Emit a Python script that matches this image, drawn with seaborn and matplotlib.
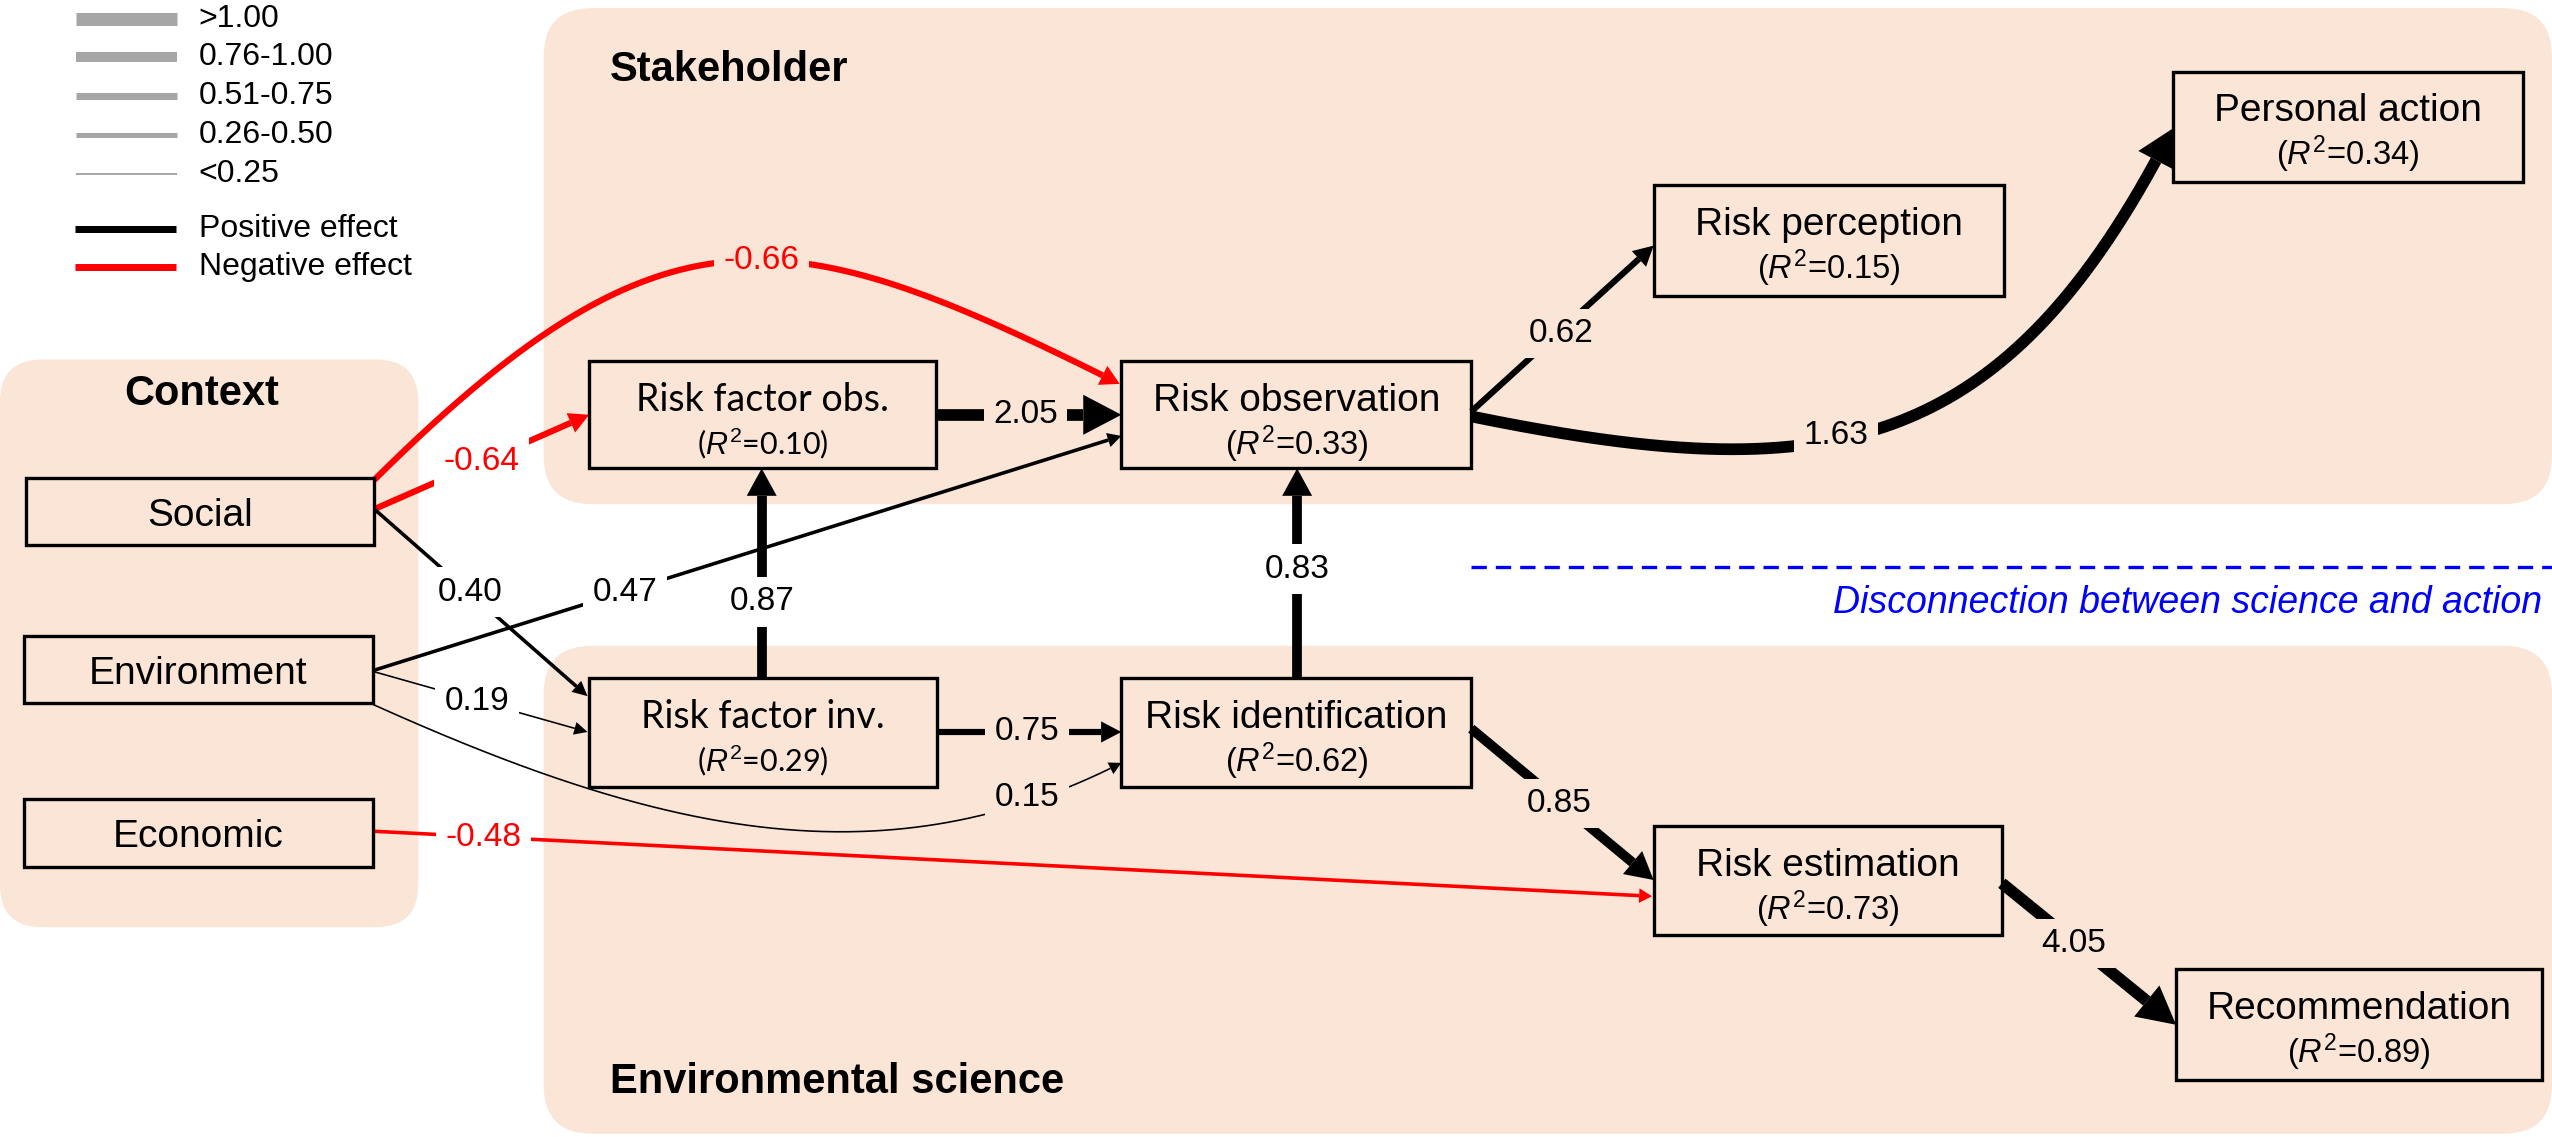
import numpy as np
import pandas as pd
import matplotlib
matplotlib.use("Agg")
import matplotlib.pyplot as plt
from matplotlib.patches import FancyBboxPatch, Rectangle, Polygon
import seaborn as sns
from math import comb

# ---- values ----
node_names = ["Social", "Environment", "Economic",
              "Risk factor obs.", "Risk observation", "Risk factor inv.",
              "Risk identification", "Risk perception", "Personal action",
              "Risk estimation", "Recommendation"]
node_r2 = [None, None, None, 0.10, 0.33, 0.29, 0.62, 0.15, 0.34, 0.73, 0.89]

edge_from = ["Social", "Social", "Social", "Environment", "Environment", "Environment",
             "Economic", "Risk factor obs.", "Risk factor inv.", "Risk factor inv.",
             "Risk identification", "Risk observation", "Risk observation",
             "Risk identification", "Risk estimation"]
edge_to = ["Risk observation", "Risk factor obs.", "Risk factor inv.", "Risk observation",
           "Risk factor inv.", "Risk identification", "Risk estimation", "Risk observation",
           "Risk factor obs.", "Risk identification", "Risk observation", "Risk perception",
           "Personal action", "Risk estimation", "Recommendation"]
edge_coef = [-0.66, -0.64, 0.40, 0.47, 0.19, 0.15, -0.48, 2.05, 0.87, 0.75, 0.83,
             0.62, 1.63, 0.85, 4.05]

size_bins = [">1.00", "0.76-1.00", "0.51-0.75", "0.26-0.50", "<0.25"]
effect_labels = ["Positive effect", "Negative effect"]
group_titles = ["Context", "Stakeholder", "Environmental science"]
note_text = "Disconnection between science and action"

# ---- layout (canvas units = 1568 x 699) ----
W, H = 1568, 699
PT = 2552 / W * 0.72          # points per canvas unit
PEACH = "#FBE5D6"
GRAY = "#A6A6A6"
RED = "#FF0000"

panels = {"Context": (0, 221, 257, 570, 26),
          "Stakeholder": (334, 5, 1568, 310, 30),
          "Environmental science": (334, 397, 1568, 697, 30)}
title_pos = {"Context": (124, 242, "center"),
             "Stakeholder": (375, 43, "left"),
             "Environmental science": (375, 665, "left")}

box_pos = {"Social": (16, 294, 230, 335),
           "Environment": (15, 391, 229, 432),
           "Economic": (15, 491, 229, 533),
           "Risk factor obs.": (362, 222, 575, 288),
           "Risk observation": (689, 222, 904, 288),
           "Risk factor inv.": (362, 417, 576, 484),
           "Risk identification": (689, 417, 904, 484),
           "Risk perception": (1016, 114, 1231, 182),
           "Personal action": (1335, 44, 1550, 112),
           "Risk estimation": (1016, 508, 1230, 575),
           "Recommendation": (1337, 596, 1562, 664)}
lato_boxes = {"Risk factor obs.", "Risk factor inv."}

# bezier control points of each path, same order as edge_coef
edge_path = [
    [(230, 295), (410, 116), (486, 135), (688, 236)],
    [(230, 313), (362, 255)],
    [(230, 313), (361, 428)],
    [(230, 412), (689, 268)],
    [(230, 413), (361, 450)],
    [(229, 433), (400, 510), (540, 545), (689, 469)],
    [(229, 511), (1015, 551)],
    [(575, 255), (689, 255)],
    [(468, 417), (468, 288)],
    [(576, 450), (689, 450)],
    [(797, 417), (797, 288)],
    [(904, 253), (1016, 151)],
    [(904, 256), (1120, 300), (1230, 285), (1335, 79)],
    [(904, 448), (1016, 541)],
    [(1230, 543), (1337, 630)],
]
label_pos = [(468, 160), (296, 284), (289, 364), (384, 364), (293, 431), (631, 490),
             (297, 515), (630, 255), (468, 370), (631, 450), (797, 350), (959, 205),
             (1128, 268), (958, 494), (1274, 580)]

# shaft width, head length, head half-width per magnitude bin (canvas units)
bin_style = [(7.2, 23.5, 12.3), (6.0, 17.0, 9.2), (3.8, 12.5, 6.5),
             (2.2, 9.5, 4.5), (1.0, 8.5, 4.0)]
legend_lw = [8.0, 6.1, 4.3, 3.1, 1.2]


def size_bin(c):
    a = abs(c)
    if a > 1.0:
        return 0
    if a > 0.75:
        return 1
    if a > 0.5:
        return 2
    if a > 0.25:
        return 3
    return 4


def bezier(ctrl, n=400):
    ctrl = np.asarray(ctrl, float)
    k = len(ctrl) - 1
    t = np.linspace(0, 1, n)[:, None]
    return sum(comb(k, i) * t ** i * (1 - t) ** (k - i) * ctrl[i] for i in range(k + 1))


def draw_arrow(ax, ctrl, lw, hl, hw, color):
    pts = bezier(ctrl)
    tip = pts[-1]
    dist = np.hypot(*(pts - tip).T)
    i = int(np.argmax(dist <= hl))
    base = pts[i]
    ax.plot(pts[:i + 1, 0], pts[:i + 1, 1], color=color, lw=lw * PT,
            solid_capstyle="butt", zorder=2)
    u = (tip - base) / np.hypot(*(tip - base))
    nrm = np.array([-u[1], u[0]])
    ax.add_patch(Polygon([tip, base + nrm * hw, base - nrm * hw], closed=True,
                         fc=color, ec="none", zorder=2))


def inside_panel(x, y):
    return any(p[0] <= x <= p[2] and p[1] <= y <= p[3] for p in panels.values())


sns.set_theme(style="white")
plt.rcParams["font.family"] = ["Liberation Sans", "DejaVu Sans"]
plt.rcParams["text.color"] = "black"
plt.rcParams["mathtext.fontset"] = "custom"
plt.rcParams["mathtext.rm"] = "Liberation Sans"
plt.rcParams["mathtext.it"] = "Liberation Sans:italic"

fig = plt.figure(figsize=(25.52, 11.37), dpi=100)
ax = fig.add_axes([0, 0, 1, 1])

# background group panels
for name, (x0, y0, x1, y1, r) in panels.items():
    ax.add_patch(FancyBboxPatch((x0, y0), x1 - x0, y1 - y0,
                                boxstyle=f"round,pad=0,rounding_size={r}",
                                fc=PEACH, ec="none", zorder=0))
for name in group_titles:
    x, y, ha = title_pos[name]
    ax.text(x, y, name, ha=ha, va="center", fontsize=30, fontweight="bold", zorder=5)

# legend samples
leg = pd.DataFrame({"x": [47, 109] * 5,
                    "y": np.repeat([11.7, 35, 59, 83, 107], 2),
                    "bin": np.repeat(size_bins, 2)})
sns.lineplot(data=leg, x="x", y="y", size="bin",
             sizes={b: w * PT for b, w in zip(size_bins, legend_lw)},
             color=GRAY, estimator=None, sort=False, legend=False, ax=ax,
             solid_capstyle="butt")
eff = pd.DataFrame({"x": [46, 108] * 2, "y": np.repeat([141, 164], 2),
                    "effect": np.repeat(effect_labels, 2)})
sns.lineplot(data=eff, x="x", y="y", hue="effect",
             palette={effect_labels[0]: "black", effect_labels[1]: RED},
             linewidth=4.3 * PT, estimator=None, sort=False, legend=False, ax=ax,
             solid_capstyle="butt")
for lab, y in zip(size_bins + effect_labels, [11.7, 35, 59, 83, 107, 141, 164]):
    ax.text(122, y, lab, ha="left", va="center", fontsize=23)

# disconnection line
ax.plot([904, W], [348.5, 348.5], color="blue", lw=2.4, dashes=(4.6, 2.7), zorder=1)
ax.text(1562, 371, note_text, ha="right", va="center", fontsize=27,
        style="italic", color="blue")

# paths
for k, c in enumerate(edge_coef):
    lw, hl, hw = bin_style[size_bin(c)]
    color = RED if c < 0 else "black"
    draw_arrow(ax, edge_path[k], lw, hl, hw, color)
    x, y = label_pos[k]
    bg = PEACH if inside_panel(x, y) else "white"
    ax.text(x, y, f"{c:.2f}", ha="center", va="center", fontsize=24, color=color,
            bbox=dict(boxstyle="square,pad=0.28", fc=bg, ec="none"), zorder=5)

# variable boxes
for name, r2 in zip(node_names, node_r2):
    x0, y0, x1, y1 = box_pos[name]
    ax.add_patch(Rectangle((x0, y0), x1 - x0, y1 - y0, fill=False, ec="black",
                           lw=2.4, zorder=4))
    cx = (x0 + x1) / 2
    if name in lato_boxes:
        fam, fs1, fs2 = ["Lato", "DejaVu Sans"], 27, 22
    else:
        fam, fs1, fs2 = ["Liberation Sans", "DejaVu Sans"], 28, 23.5
    if r2 is None:
        ax.text(cx, (y0 + y1) / 2 + 9, name, ha="center", va="baseline",
                fontsize=fs1, family=fam, zorder=5)
    else:
        ax.text(cx, y0 + 30.5, name, ha="center", va="baseline",
                fontsize=fs1, family=fam, zorder=5)
        ax.text(cx, y0 + 57.5, rf"($\mathit{{R}}^2$={r2:.2f})", ha="center",
                va="baseline", fontsize=fs2, family=fam, zorder=5)

ax.set_xlim(0, W)
ax.set_ylim(H, 0)
ax.axis("off")
fig.savefig("out.png", dpi=100, facecolor="white")
